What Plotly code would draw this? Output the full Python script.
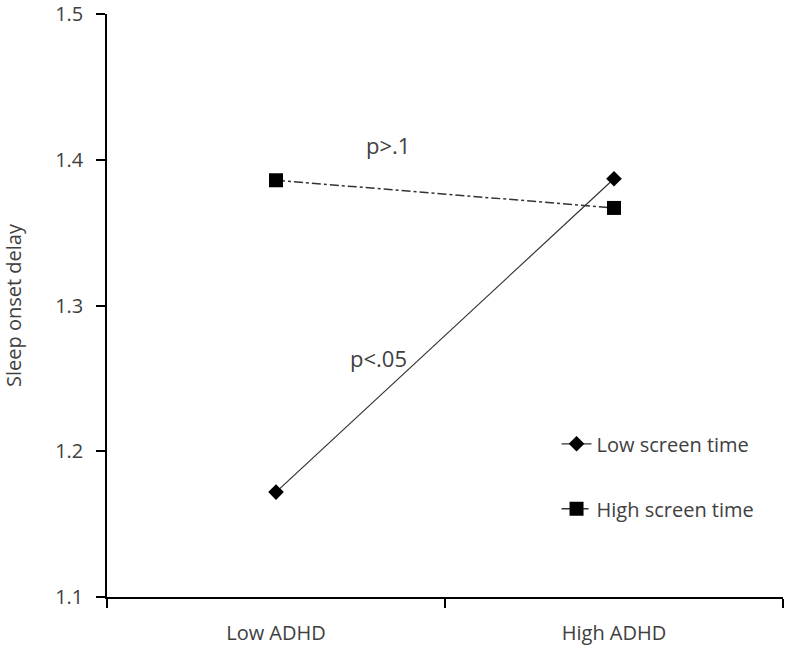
import plotly.graph_objects as go

categories = ["Low ADHD", "High ADHD"]
low_screen = [1.172, 1.387]
high_screen = [1.386, 1.367]
series_names = ["Low screen time", "High screen time"]
y_ticks = [1.1, 1.2, 1.3, 1.4, 1.5]

FONT = "Open Sans, sans-serif"
TXT = "#404040"

fig = go.Figure()
fig.add_trace(go.Scatter(
    x=categories, y=low_screen, name=series_names[0], mode="lines+markers",
    line=dict(color="#333333", width=1.2),
    marker=dict(symbol="diamond", size=12, color="black"),
    legendgroup="a",
))
fig.add_trace(go.Scatter(
    x=categories, y=high_screen, name=series_names[1], mode="lines+markers",
    line=dict(color="#333333", width=1.5, dash="dashdot"),
    marker=dict(symbol="square", size=14, color="black"),
    legendgroup="b",
))

fig.add_annotation(x=0.331, y=1.410, text="p>.1", showarrow=False,
                   font=dict(size=22, color=TXT, family=FONT))
fig.add_annotation(x=0.302, y=1.264, text="p<.05", showarrow=False,
                   font=dict(size=22, color=TXT, family=FONT))

fig.update_layout(
    width=787, height=650,
    margin=dict(l=107, r=4, t=14, b=53),
    paper_bgcolor="white", plot_bgcolor="white",
    font=dict(family=FONT, color=TXT, size=20),
    showlegend=True,
    legend=dict(x=0.665, y=0.207, xanchor="left", yanchor="middle",
                bgcolor="rgba(0,0,0,0)", font=dict(size=20, color=TXT),
                tracegroupgap=36),
    xaxis=dict(
        type="category", range=[-0.5, 1.5], tickson="boundaries",
        showline=True, linecolor="black", linewidth=1.5,
        ticks="outside", ticklen=9, tickcolor="black", tickwidth=1.5,
        showgrid=False, zeroline=False, automargin=False,
        tickfont=dict(size=20, color=TXT), ticklabelstandoff=17,
    ),
    yaxis=dict(
        range=[1.1, 1.5001], tickvals=y_ticks, ticktext=[f"{v:.1f}" for v in y_ticks],
        showline=True, linecolor="black", linewidth=1.5,
        ticks="outside", ticklen=9, tickcolor="black", tickwidth=1.5,
        showgrid=False, zeroline=False, ticklabeloverflow="allow", automargin=False,
        tickfont=dict(size=20, color=TXT), ticklabelstandoff=9,
        title=dict(text="Sleep onset delay", font=dict(size=20, color=TXT), standoff=28),
    ),
)

fig.write_html("out.html", config={"displayModeBar": False},
               post_script="document.body.style.margin='0';")
